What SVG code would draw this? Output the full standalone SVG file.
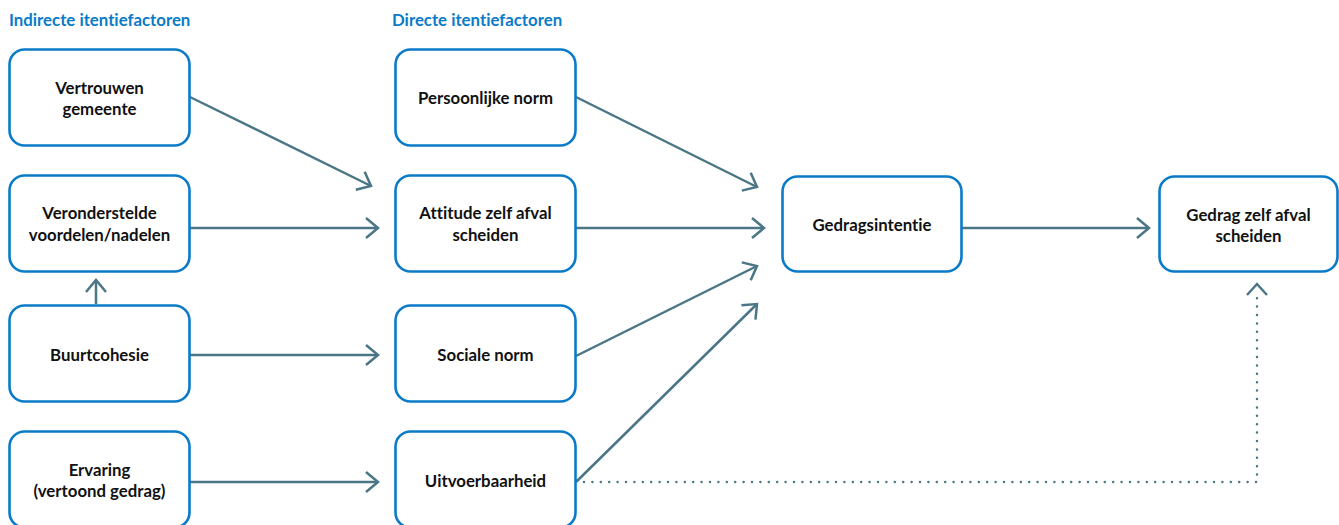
<svg xmlns="http://www.w3.org/2000/svg" width="1339" height="525" viewBox="0 0 1339 525">
<style>
.box{fill:#fff;stroke:#0a7bc9;stroke-width:2.6}
.lbl{font-family:Lato,"Open Sans",sans-serif;font-weight:700;font-size:16.8px;fill:#111;text-anchor:middle;font-variant-ligatures:none}
.ttl{font-family:Lato,"Open Sans",sans-serif;font-weight:700;font-size:16.8px;fill:#0a7bc9;font-variant-ligatures:none}
.con{fill:none;stroke:#4b7686;stroke-width:2.5}
.dot{fill:none;stroke:#4b7686;stroke-width:2.5;stroke-linecap:round;stroke-dasharray:0 8.4}
</style>
<defs>
<marker id="ah" markerUnits="userSpaceOnUse" markerWidth="30" markerHeight="30" viewBox="-20 -15 30 30" refX="0" refY="0" orient="auto">
<path d="M-12,-10 L0,0 L-12,10" fill="none" stroke="#4b7686" stroke-width="2.5"/>
</marker>
</defs>
<text class="ttl" x="9" y="26">Indirecte itentiefactoren</text>
<text class="ttl" x="392" y="26">Directe itentiefactoren</text>
<g id="connectors">
<line class="con" x1="190" y1="97" x2="371" y2="186" marker-end="url(#ah)"/>
<line class="con" x1="190" y1="228" x2="378" y2="228" marker-end="url(#ah)"/>
<line class="con" x1="96" y1="304" x2="96" y2="280" marker-end="url(#ah)"/>
<line class="con" x1="190" y1="355" x2="378" y2="355" marker-end="url(#ah)"/>
<line class="con" x1="190" y1="482" x2="378" y2="482" marker-end="url(#ah)"/>
<line class="con" x1="576" y1="97" x2="757" y2="187" marker-end="url(#ah)"/>
<line class="con" x1="576" y1="228" x2="764" y2="228" marker-end="url(#ah)"/>
<line class="con" x1="576" y1="356" x2="757" y2="266" marker-end="url(#ah)"/>
<line class="con" x1="576" y1="482" x2="757" y2="304" marker-end="url(#ah)"/>
<line class="con" x1="962" y1="228" x2="1149" y2="228" marker-end="url(#ah)"/>
<polyline class="dot" points="584,482 1257,482 1257,292"/>
<path d="M1247,295 L1257,284 L1267,295" fill="none" stroke="#4b7686" stroke-width="2.5"/>
</g>
<g id="n1"><rect class="box" x="9.5" y="49.5" width="180" height="96" rx="15"/><text class="lbl" x="99.5" y="94">Vertrouwen</text><text class="lbl" x="99.5" y="115">gemeente</text></g>
<g id="n2"><rect class="box" x="9.5" y="175.5" width="180" height="96" rx="15"/><text class="lbl" x="99.5" y="219">Veronderstelde</text><text class="lbl" x="99.5" y="241">voordelen/nadelen</text></g>
<g id="n3"><rect class="box" x="9.5" y="305.5" width="180" height="96" rx="15"/><text class="lbl" x="99.5" y="361">Buurtcohesie</text></g>
<g id="n4"><rect class="box" x="9.5" y="431.5" width="180" height="96" rx="15"/><text class="lbl" x="99.5" y="476">Ervaring</text><text class="lbl" x="99.5" y="497">(vertoond gedrag)</text></g>
<g id="n5"><rect class="box" x="395.5" y="49.5" width="180" height="96" rx="15"/><text class="lbl" x="485.5" y="104">Persoonlijke norm</text></g>
<g id="n6"><rect class="box" x="395.5" y="175.5" width="180" height="96" rx="15"/><text class="lbl" x="485.5" y="219">Attitude zelf afval</text><text class="lbl" x="485.5" y="241">scheiden</text></g>
<g id="n7"><rect class="box" x="395.5" y="305.5" width="180" height="96" rx="15"/><text class="lbl" x="485.5" y="361">Sociale norm</text></g>
<g id="n8"><rect class="box" x="395.5" y="431.5" width="180" height="96" rx="15"/><text class="lbl" x="485.5" y="487">Uitvoerbaarheid</text></g>
<g id="n9"><rect class="box" x="782.5" y="176.5" width="179" height="95" rx="15"/><text class="lbl" x="872" y="231">Gedragsintentie</text></g>
<g id="n10"><rect class="box" x="1159.5" y="176.5" width="178" height="95" rx="15"/><text class="lbl" x="1248.5" y="221">Gedrag zelf afval</text><text class="lbl" x="1248.5" y="242">scheiden</text></g>
</svg>
